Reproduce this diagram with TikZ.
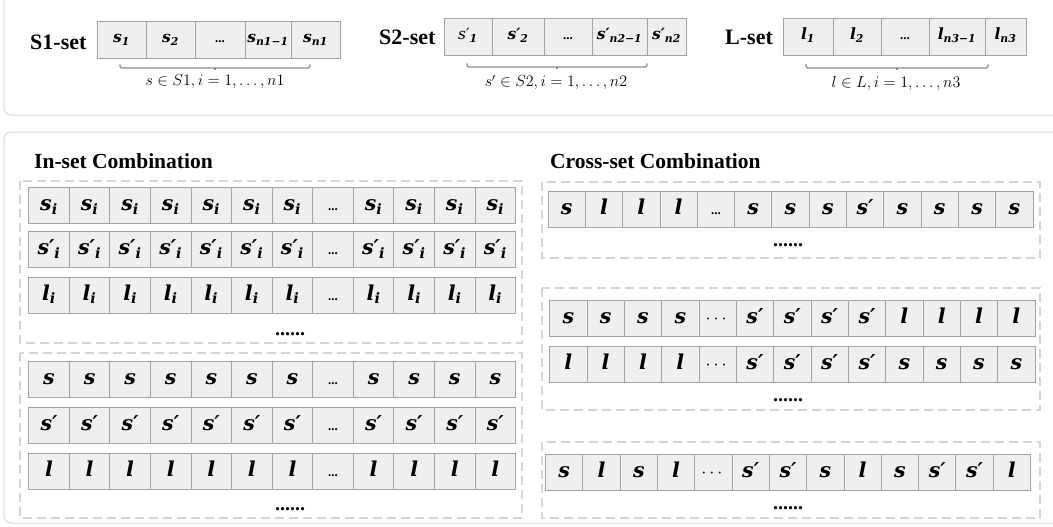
\RequirePackage{fix-cm}
\documentclass[tikz,border=0pt]{standalone}
\usepackage{amsmath}
\usepackage{fontspec}
\setmainfont{Liberation Serif}
\newfontfamily\cellfont{DejaVu Serif}
\usetikzlibrary{calc}
\definecolor{cellfill}{HTML}{EFEFEF}
\definecolor{cellline}{HTML}{A3A3A3}
\definecolor{dashcol}{HTML}{D4D4D4}
\definecolor{panelcol}{HTML}{DADADA}
\definecolor{bracecol}{HTML}{8A8A8A}
\newcommand\bi[1]{{\cellfont\bfseries\itshape #1}}
\newcommand\sbs[1]{\textsubscript{#1}}
\newcommand\Si{\bi{s\sbs{i}}}
\newcommand\Spi{\bi{s′\sbs{i}}}
\newcommand\Li{\bi{l\sbs{i}}}
\newcommand\Sx{\bi{s}}
\newcommand\Spx{\bi{s′}}
\newcommand\Lx{\bi{l}}
\newcommand\edots{{\bfseries\fontsize{13}{13}\selectfont ...}}
\newcommand\cdt{{\fontsize{18}{18}\selectfont$\cdots$}}
\tikzset{
  cellbox/.style={draw=cellline, fill=cellfill, line width=0.8pt, inner sep=0pt,
    minimum height=36pt, text height=15pt, text depth=5pt,
    font=\fontsize{20.5}{24}\selectfont},
  topcell/.style={cellbox, minimum height=37pt, text height=11pt, text depth=5pt,
    font=\fontsize{15.5}{19}\selectfont},
  dashbox/.style={draw=dashcol, line width=1.6pt, dash pattern=on 9pt off 5pt},
  panelbox/.style={draw=panelcol, line width=1pt, rounded corners=7pt},
  ttl/.style={font=\fontsize{21.5}{26}\selectfont\bfseries, inner sep=0pt, anchor=base west},
  setlab/.style={font=\fontsize{22}{26}\selectfont\bfseries, inner sep=0pt, anchor=base west},
  moredots/.style={font=\fontsize{20}{24}\selectfont\bfseries, inner sep=0pt, anchor=base},
  bracestyle/.style={draw=bracecol, line width=1.3pt, rounded corners=1.5pt},
  bracelab/.style={font=\fontsize{16}{19}\selectfont, inner sep=0pt, anchor=base},
}
\newcommand\cellrow[6]{%
  \pgfmathsetmacro\cw{(#3-#2)/#5}%
  \foreach \t [count=\k] in {#6}{%
    \node[cellbox, minimum width=\cw pt] (#1-\k) at ({#2+(\k-0.5)*\cw},#4) {\t};
  }%
}
\begin{document}
\begin{tikzpicture}[x=1pt,y=-1pt]
\useasboundingbox (0,0) rectangle (1053,527);
\clip (0,0) rectangle (1053,527);
% panels
\draw[panelbox] (4,-20) rectangle (1075,115);
\draw[panelbox] (4,132) rectangle (1075,523);

% ---------- top sets ----------
\node[setlab] (s1lab) at (30,50) {S1-set};
\foreach \a/\b/\t [count=\k] in {97/146/{\bi{s\sbs{1}}},146/195/{\bi{s\sbs{2}}},195/245/{\edots},245/291/{\bi{s\sbs{n1−1}}},291/340/{\bi{s\sbs{n1}}}}
  \node[topcell, minimum width={(\b-\a)*1pt}] (s1-\k) at ({(\a+\b)/2},39.5) {\t};
\coordinate (b1l) at (120,68); \coordinate (b1r) at (310,68); \coordinate (b1m) at (215,68);
\draw[bracestyle] ($(b1l)+(0,-3.5)$) -- (b1l) -- (b1r) -- ($(b1r)+(0,-3.5)$);
\draw[bracestyle] (b1m) -- ($(b1m)+(0,2.5)$);
\node[bracelab] (b1lab) at (215,86) {$s \in S1, i = 1, \ldots, n1$};

\node[setlab] (s2lab) at (379,45) {S2-set};
\foreach \a/\b/\t [count=\k] in {444/492/{{\cellfont\itshape s′}\bi{\sbs{1}}},492/544/{\bi{s′\sbs{2}}},544/592/{\edots},592/647/{\bi{s′\sbs{n2−1}}},647/686/{\bi{s′\sbs{n2}}}}
  \node[topcell, minimum width={(\b-\a)*1pt}] (s2-\k) at ({(\a+\b)/2},36.5) {\t};
\coordinate (b2l) at (467,67); \coordinate (b2r) at (647,67); \coordinate (b2m) at (557,67);
\draw[bracestyle] ($(b2l)+(0,-3.5)$) -- (b2l) -- (b2r) -- ($(b2r)+(0,-3.5)$);
\draw[bracestyle] (b2m) -- ($(b2m)+(0,2.5)$);
\node[bracelab] (b2lab) at (556,87) {$s' \in S2, i = 1, \ldots, n2$};

\node[setlab] (llab) at (725,45) {L-set};
\foreach \a/\b/\t [count=\k] in {783/833/{\bi{l\sbs{1}}},833/881/{\bi{l\sbs{2}}},881/929/{\edots},929/985/{\bi{l\sbs{n3−1}}},985/1026/{\bi{l\sbs{n3}}}}
  \node[topcell, minimum width={(\b-\a)*1pt}] (l-\k) at ({(\a+\b)/2},37) {\t};
\coordinate (b3l) at (806,68); \coordinate (b3r) at (988,68); \coordinate (b3m) at (897,68);
\draw[bracestyle] ($(b3l)+(0,-3.5)$) -- (b3l) -- (b3r) -- ($(b3r)+(0,-3.5)$);
\draw[bracestyle] (b3m) -- ($(b3m)+(0,2.5)$);
\node[bracelab] (b3lab) at (896,88) {$l \in L, i = 1, \ldots, n3$};

% ---------- In-set ----------
\node[ttl] (inttl) at (34,168) {In-set Combination};
\draw[dashbox] (20,181) rectangle (522,343);
\draw[dashbox] (20,353) rectangle (522,518);
\cellrow{ra}{28.7}{515.6}{205.5}{12}{\Si,\Si,\Si,\Si,\Si,\Si,\Si,\edots,\Si,\Si,\Si,\Si}
\cellrow{rb}{28.7}{515.6}{249.5}{12}{\Spi,\Spi,\Spi,\Spi,\Spi,\Spi,\Spi,\edots,\Spi,\Spi,\Spi,\Spi}
\cellrow{rc}{28.7}{515.6}{295}{12}{\Li,\Li,\Li,\Li,\Li,\Li,\Li,\edots,\Li,\Li,\Li,\Li}
\node[moredots] (ind1) at (290,335) {......};
\cellrow{rd}{28.7}{515.6}{379.5}{12}{\Sx,\Sx,\Sx,\Sx,\Sx,\Sx,\Sx,\edots,\Sx,\Sx,\Sx,\Sx}
\cellrow{re}{28.7}{515.6}{425}{12}{\Spx,\Spx,\Spx,\Spx,\Spx,\Spx,\Spx,\edots,\Spx,\Spx,\Spx,\Spx}
\cellrow{rf}{28.7}{515.6}{471}{12}{\Lx,\Lx,\Lx,\Lx,\Lx,\Lx,\Lx,\edots,\Lx,\Lx,\Lx,\Lx}
\node[moredots] (ind2) at (290,510) {......};

% ---------- Cross-set ----------
\node[ttl] (crttl) at (550,168) {Cross-set Combination};
\draw[dashbox] (542,182) rectangle (1040,258);
\draw[dashbox] (542,288) rectangle (1040,410);
\draw[dashbox] (542,442) rectangle (1040,518);
\cellrow{ca}{548}{1033}{209}{13}{\Sx,\Lx,\Lx,\Lx,\edots,\Sx,\Sx,\Sx,\Spx,\Sx,\Sx,\Sx,\Sx}
\node[moredots] (crd1) at (788,246) {......};
\cellrow{cb}{549.6}{1035}{318}{13}{\Sx,\Sx,\Sx,\Sx,\cdt,\Spx,\Spx,\Spx,\Spx,\Lx,\Lx,\Lx,\Lx}
\cellrow{cc}{549.6}{1035}{364}{13}{\Lx,\Lx,\Lx,\Lx,\cdt,\Spx,\Spx,\Spx,\Spx,\Sx,\Sx,\Sx,\Sx}
\node[moredots] (crd2) at (788,401) {......};
\cellrow{cd}{545.5}{1030.5}{472}{13}{\Sx,\Lx,\Sx,\Lx,\cdt,\Spx,\Spx,\Sx,\Lx,\Sx,\Spx,\Spx,\Lx}
\node[moredots] (crd3) at (788,509) {......};
\end{tikzpicture}
\end{document}
